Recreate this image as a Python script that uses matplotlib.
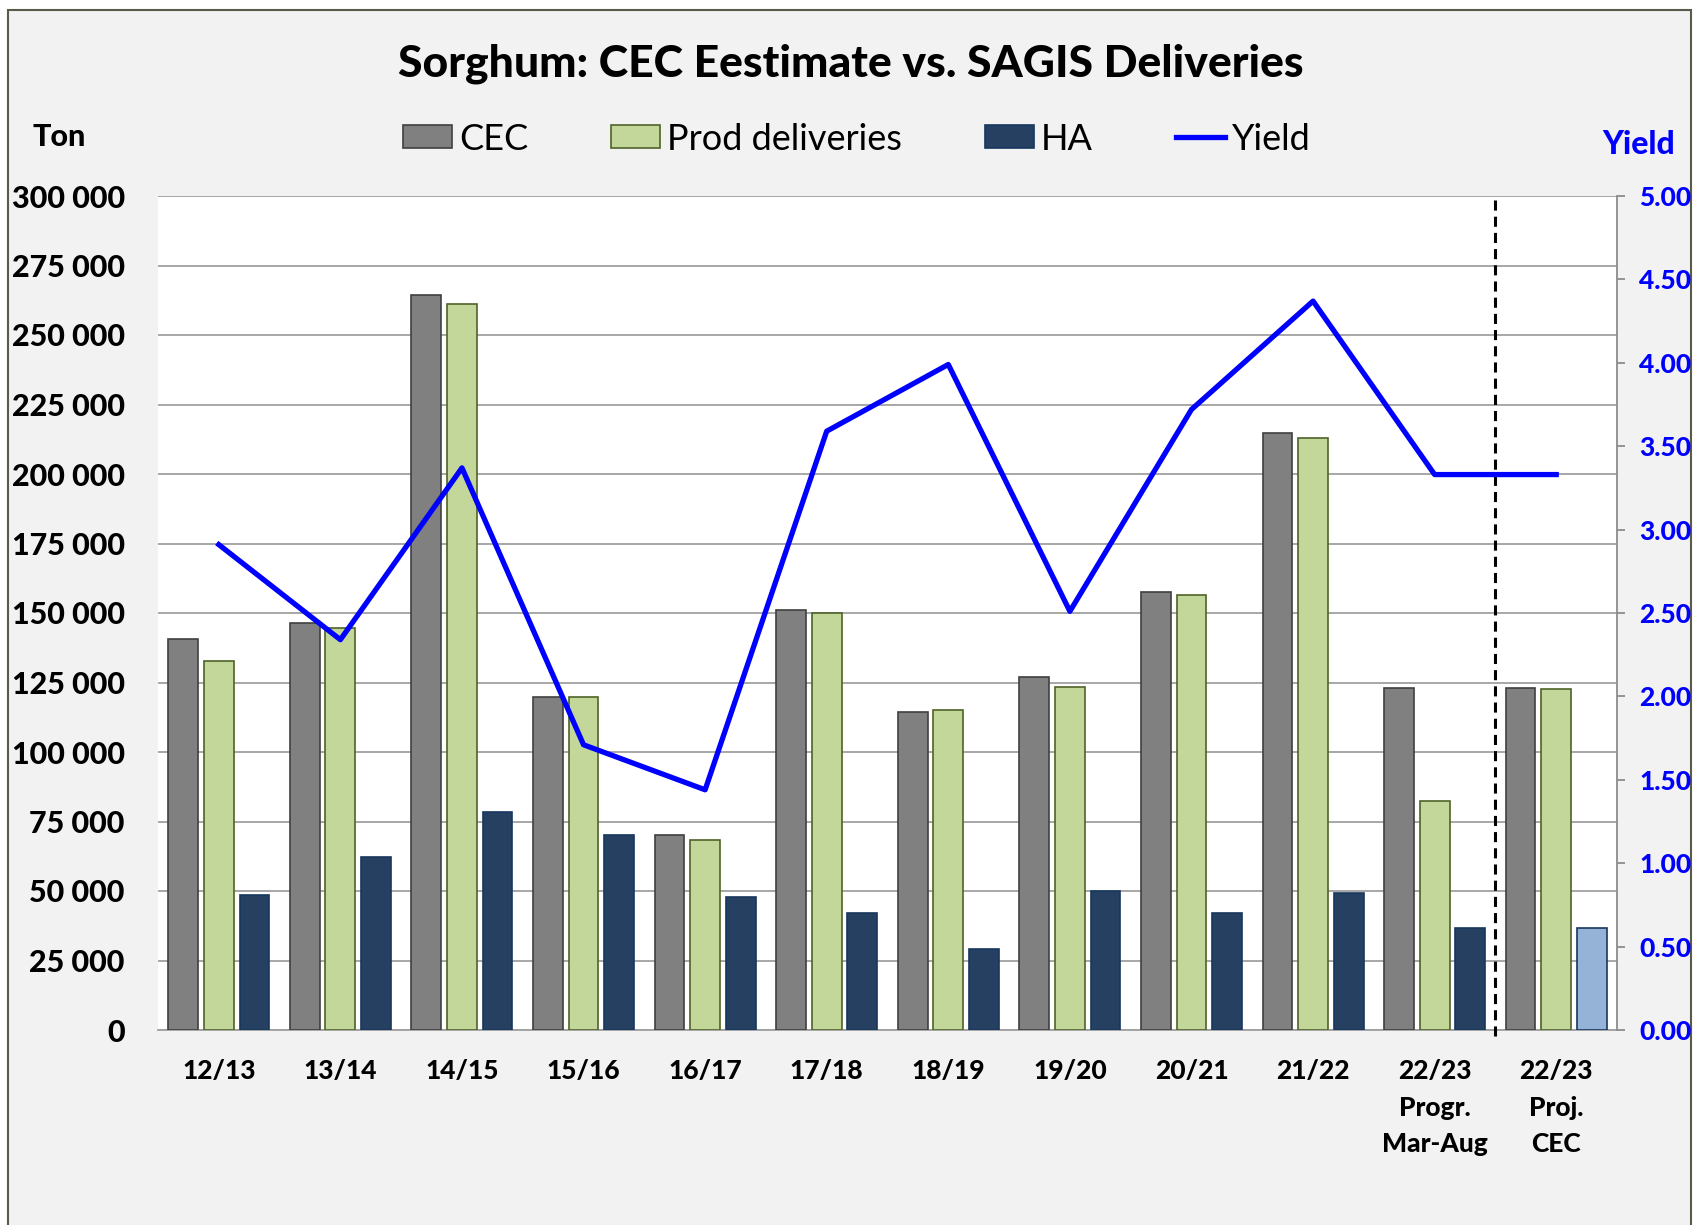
import numpy as np
import matplotlib
matplotlib.use('Agg')
import matplotlib.pyplot as plt
from matplotlib.patches import Patch, Rectangle
from matplotlib.lines import Line2D
from matplotlib.ticker import FuncFormatter, MultipleLocator

plt.rcParams['font.family'] = ['Lato', 'DejaVu Sans']

# data
seasons = ['12/13', '13/14', '14/15', '15/16', '16/17', '17/18', '18/19',
           '19/20', '20/21', '21/22', '22/23\nProgr.\nMar-Aug', '22/23\nProj.\nCEC']
cec = [140500, 146400, 264500, 119800, 70300, 151200, 114500, 126800,
       157700, 214600, 123100, 123100]
prod_deliveries = [132700, 144700, 261300, 119800, 68200, 150100, 115100,
                   123400, 156600, 213000, 82500, 122500]
ha = [48400, 62300, 78500, 70300, 48000, 42200, 29000, 50100, 42200,
      49200, 36800, 36800]
yield_t = [2.91, 2.34, 3.37, 1.71, 1.44, 3.59, 3.99, 2.51, 3.72, 4.37, 3.33, 3.33]

ha_colors = ['#254061'] * (len(seasons) - 1) + ['#95b3d7']

W, H = 1694, 1225
BOLD = 900
fig = plt.figure(figsize=(W / 100, H / 100), dpi=100)
fig.patch.set_facecolor('white')

# grey chart frame (cut off at the bottom like the original)
frame = Rectangle((8 / W, -0.05), (1691 - 8) / W, 1.05 - 10 / H,
                  transform=fig.transFigure, facecolor='#f2f2f2',
                  edgecolor='#5a5a4a', lw=1.5, zorder=-10)
fig.add_artist(frame)

ax = fig.add_axes([158 / W, 1 - 1030 / H, (1617 - 158) / W, (1030 - 196) / H])
ax.set_facecolor('white')

x = np.arange(len(seasons)) + 0.5
bw = 0.245
off = 0.293
ax.bar(x - off, cec, bw, color='#808080', edgecolor='#404040', lw=1.2, zorder=3)
ax.bar(x, prod_deliveries, bw, color='#c4d79b', edgecolor='#4f6228', lw=1.2, zorder=3)
ax.bar(x + off, ha, bw, color=ha_colors, edgecolor='#17375e', lw=1.2, zorder=3)

ax.set_xlim(0, len(seasons))
ax.set_ylim(0, 300000)
ax.yaxis.set_major_locator(MultipleLocator(25000))
ax.yaxis.set_major_formatter(FuncFormatter(lambda v, p: f'{int(v):,}'.replace(',', ' ')))
ax.yaxis.grid(True, color='#a0a0a0', lw=1.3)
ax.set_axisbelow(True)
for s in ['top', 'left', 'right']:
    ax.spines[s].set_visible(False)
ax.spines['bottom'].set_color('#a0a0a0')
ax.spines['bottom'].set_linewidth(1.3)
ax.tick_params(axis='y', length=0, pad=24, labelsize=22)
ax.tick_params(axis='x', length=0, pad=21)
ax.set_xticks(x)
ax.set_xticklabels(seasons, fontsize=19, fontweight=BOLD, linespacing=1.62)
for lab in ax.get_yticklabels():
    lab.set_fontweight(BOLD)

# divider between progressive and projected 22/23
divider = len(seasons) - 1
ax.vlines(divider, -2000, 300000, colors='black', linestyles=(0, (3.3, 2)),
          lw=2.2, clip_on=False, zorder=4)

ax2 = ax.twinx()
ax2.plot(x, yield_t, color='#0000ff', lw=3.8, zorder=5)
ax2.set_ylim(0, 5)
ax2.yaxis.set_major_locator(MultipleLocator(0.5))
ax2.yaxis.set_major_formatter(FuncFormatter(lambda v, p: f'{v:.2f}'))
for s in ['top', 'left', 'bottom']:
    ax2.spines[s].set_visible(False)
ax2.spines['right'].set_color('#8c8c8c')
ax2.spines['right'].set_linewidth(1.3)
ax2.tick_params(axis='y', direction='out', length=6, width=1.3, color='#8c8c8c',
                labelcolor='#0000ff', labelsize=19, pad=10)
for lab in ax2.get_yticklabels():
    lab.set_fontweight(BOLD)

fig.text(851 / W, 1 - 64 / H, 'Sorghum: CEC Eestimate vs. SAGIS Deliveries',
         ha='center', va='center', fontsize=32, fontweight=BOLD)
fig.text(59 / W, 1 - 137 / H, 'Ton', ha='center', va='center',
         fontsize=22, fontweight=BOLD)
fig.text(1639 / W, 1 - 145 / H, 'Yield', ha='center', va='center',
         fontsize=23, fontweight=BOLD, color='#0000ff')

handles = [Patch(facecolor='#808080', edgecolor='#404040', lw=1.2),
           Patch(facecolor='#c4d79b', edgecolor='#4f6228', lw=1.2),
           Patch(facecolor='#254061', edgecolor='#17375e', lw=1.2),
           Line2D([0], [0], color='#0000ff', lw=3.8)]
labels = ['CEC', 'Prod deliveries', 'HA', 'Yield']
fig.legend(handles, labels, loc='center', bbox_to_anchor=(857 / W, 1 - 139 / H),
           ncol=4, frameon=False, fontsize=26, handlelength=1.35, handleheight=0.6,
           handletextpad=0.2, columnspacing=2.3)

fig.savefig('out.png', dpi=100)
